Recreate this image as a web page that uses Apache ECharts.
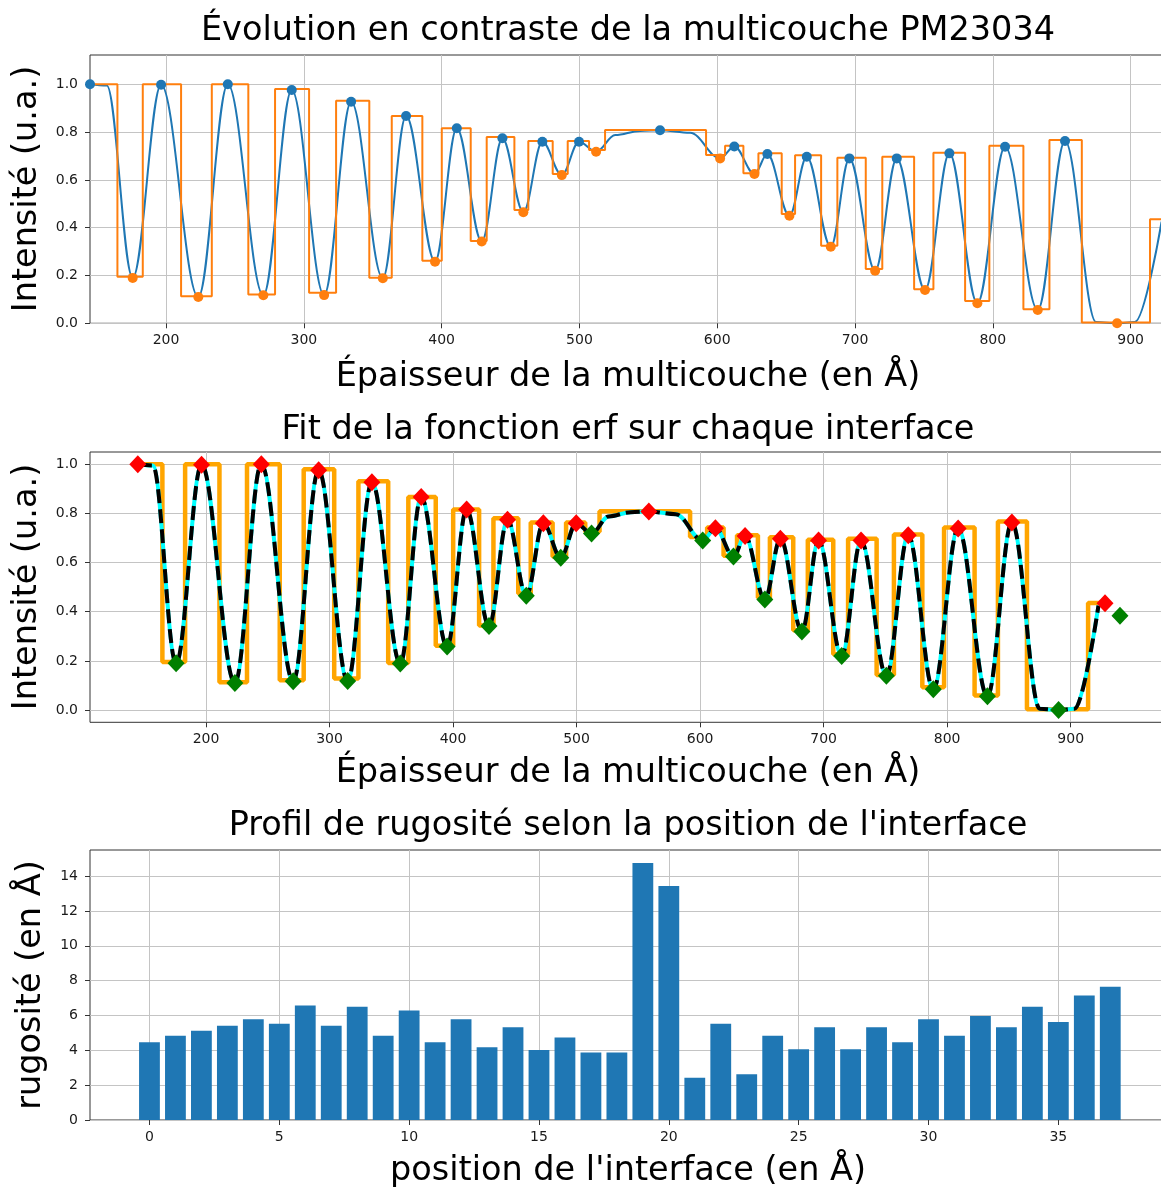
<!DOCTYPE html>
<html>
<head>
<meta charset="utf-8">
<script src="https://cdn.jsdelivr.net/npm/echarts@6/dist/echarts.min.js"></script>
<style>
html,body{margin:0;padding:0;background:#fff;}
#chart{width:1161px;height:1190px;}
</style>
</head>
<body>
<div id="chart"></div>
<script>
// ---------- DATA ----------
// Smoothed intensity curve, read at its extrema and flat parts (x in Å, y in u.a.)
const curveX = [144.8, 157.0, 175.8, 196.4, 223.4, 244.8, 270.6, 291.2, 314.7, 334.3, 357.3, 374.2, 395.2, 411.0, 429.1, 444.1, 459.3, 473.1, 487.2, 499.7, 512.1, 526.0, 544.0, 558.5, 580.3, 602.1, 612.4, 627.0, 636.4, 652.4, 665.0, 682.4, 695.9, 714.6, 730.3, 750.8, 768.5, 788.8, 808.9, 832.6, 852.4, 875.0, 890.2, 903.0, 922.5];
const curveY = [1.0, 0.995, 0.19, 0.998, 0.11, 1.0, 0.117, 0.976, 0.118, 0.927, 0.189, 0.867, 0.258, 0.816, 0.342, 0.774, 0.465, 0.76, 0.62, 0.76, 0.718, 0.788, 0.805, 0.808, 0.797, 0.69, 0.74, 0.625, 0.708, 0.45, 0.697, 0.32, 0.69, 0.22, 0.69, 0.139, 0.711, 0.084, 0.739, 0.056, 0.763, 0.005, 0.0, 0.005, 0.425];

// Layer model (step function): start of each layer and its level
const stepX = [144.8, 164.7, 183.1, 210.9, 233.2, 259.7, 279.1, 303.8, 323.4, 347.5, 363.8, 386.0, 400.1, 421.1, 432.7, 452.8, 462.9, 480.6, 491.5, 507.0, 518.6, 591.9, 605.7, 619.0, 629.9, 646.8, 656.5, 675.4, 687.2, 707.8, 719.8, 742.9, 756.9, 779.9, 797.5, 822.2, 841.1, 864.6, 914.1, 924.0];
const stepY = [1.0, 0.195, 1.0, 0.113, 1.0, 0.121, 0.98, 0.128, 0.931, 0.191, 0.867, 0.262, 0.816, 0.344, 0.78, 0.474, 0.763, 0.625, 0.763, 0.725, 0.809, 0.704, 0.743, 0.628, 0.711, 0.457, 0.703, 0.325, 0.693, 0.227, 0.697, 0.142, 0.714, 0.093, 0.743, 0.059, 0.767, 0.003, 0.435, 0.435];

// Maxima and minima of the intensity curve
const peakX = [144.8, 196.4, 244.8, 291.2, 334.3, 374.2, 411.0, 444.1, 473.1, 499.7, 558.5, 612.4, 636.4, 665.0, 695.9, 730.3, 768.5, 808.9, 852.4];
const peakY = [1.0, 0.998, 1.0, 0.976, 0.927, 0.867, 0.816, 0.774, 0.76, 0.76, 0.808, 0.74, 0.708, 0.697, 0.69, 0.69, 0.711, 0.739, 0.763];
const troughX = [175.8, 223.4, 270.6, 314.7, 357.3, 395.2, 429.1, 459.3, 487.2, 512.1, 602.1, 627.0, 652.4, 682.4, 714.6, 750.8, 788.8, 832.6, 890.2];
const troughY = [0.19, 0.11, 0.117, 0.118, 0.189, 0.258, 0.342, 0.465, 0.62, 0.718, 0.69, 0.625, 0.45, 0.32, 0.22, 0.139, 0.084, 0.056, 0.0];
// extra extrema shown in the erf-fit panel
const fitPeakExtraX = [927.8];
const fitPeakExtraY = [0.434];
const fitTroughExtraX = [939.9];
const fitTroughExtraY = [0.384];

// Roughness per interface
const interfacePos = [0,1,2,3,4,5,6,7,8,9,10,11,12,13,14,15,16,17,18,19,20,21,22,23,24,25,26,27,28,29,30,31,32,33,34,35,36,37];
const roughness = [4.46, 4.84, 5.12, 5.41, 5.79, 5.53, 6.58, 5.41, 6.50, 4.84, 6.29, 4.46, 5.79, 4.17, 5.32, 4.02, 4.74, 3.88, 3.88, 14.76, 13.43, 2.43, 5.53, 2.62, 4.84, 4.06, 5.32, 4.06, 5.32, 4.46, 5.79, 4.84, 5.97, 5.32, 6.50, 5.62, 7.15, 7.65];

// Tick values
const thickTicks = [200, 300, 400, 500, 600, 700, 800, 900];
const intensityTicks = [0, 0.2, 0.4, 0.6, 0.8, 1.0];
const posTicks = [0, 5, 10, 15, 20, 25, 30, 35];
const roughTicks = [0, 2, 4, 6, 8, 10, 12, 14];

const titles = ["Évolution en contraste de la multicouche PM23034", "Fit de la fonction erf sur chaque interface", "Profil de rugosité selon la position de l'interface"];
const xLabels = ["Épaisseur de la multicouche (en Å)", "Épaisseur de la multicouche (en Å)", "position de l'interface (en Å)"];
const yLabels = ["Intensité (u.a.)", "Intensité (u.a.)", "rugosité (en Å)"];

// ---------- CHART ----------
const zip = (xs, ys) => xs.map((x, i) => [x, ys[i]]);
const FONT = 'DejaVu Sans';
const TXT = '#1a1a1a';

function axis(gi, min, max, ticks, digits, step, labelMargin) {
  return {
    gridIndex: gi, type: 'value', min: min, max: max,
    minInterval: step, maxInterval: step,
    axisLine: {show: false, onZero: false},
    axisTick: {show: true, inside: false, length: 5, customValues: ticks, lineStyle: {color: '#333', width: 1}},
    axisLabel: {color: TXT, fontFamily: FONT, fontSize: 14, margin: labelMargin, customValues: ticks,
      formatter: v => Number(v).toFixed(digits)},
    splitLine: {show: true, lineStyle: {color: '#c4c4c4', width: 1}}
  };
}

const grids = [
  {left: 90, top: 55, width: 1080, height: 268.3},
  {left: 90, top: 452, width: 1080, height: 270.3},
  {left: 90, top: 850, width: 1080, height: 270}
].map(g => Object.assign(g, {show: true, borderColor: '#333', borderWidth: 1, backgroundColor: 'transparent', outerBoundsMode: 'none', containLabel: false}));

const xAxes = [
  axis(0, 144.8, 928.6, thickTicks, 0, 100, 10),
  axis(1, 106.1, 980.4, thickTicks, 0, 100, 10),
  axis(2, -2.29, 39.3, posTicks, 0, 5, 10)
];
const yAxes = [
  axis(0, 0, 1.1226, intensityTicks, 1, 0.2, 12),
  axis(1, -0.05, 1.05, intensityTicks, 1, 0.2, 12),
  axis(2, 0, 15.5, roughTicks, 0, 2, 12)
];

const curve = zip(curveX, curveY);
const steps = zip(stepX, stepY);
const peaks = zip(peakX, peakY);
const troughs = zip(troughX, troughY);
const SM = 0.363;

const series = [
  // panel 1
  {type: 'line', xAxisIndex: 0, yAxisIndex: 0, data: curve, smooth: SM, smoothMonotone: 'x', showSymbol: false, clip: true,
   lineStyle: {color: '#1f77b4', width: 2}, z: 2, silent: true},
  {type: 'line', xAxisIndex: 0, yAxisIndex: 0, data: steps, step: 'end', showSymbol: false, clip: true,
   lineStyle: {color: '#ff7f0e', width: 2}, z: 3, silent: true},
  {type: 'scatter', xAxisIndex: 0, yAxisIndex: 0, data: peaks, symbol: 'circle', symbolSize: 10, clip: true,
   itemStyle: {color: '#1f77b4', opacity: 1}, z: 4, silent: true},
  {type: 'scatter', xAxisIndex: 0, yAxisIndex: 0, data: troughs, symbol: 'circle', symbolSize: 10, clip: true,
   itemStyle: {color: '#ff7f0e', opacity: 1}, z: 5, silent: true},
  // panel 2
  {type: 'line', xAxisIndex: 1, yAxisIndex: 1, data: steps, step: 'end', showSymbol: false,
   lineStyle: {color: '#FFA500', width: 4.5}, z: 2, silent: true},
  {type: 'line', xAxisIndex: 1, yAxisIndex: 1, data: curve, smooth: SM, smoothMonotone: 'x', showSymbol: false,
   lineStyle: {color: '#00FFFF', width: 4}, z: 3, silent: true},
  {type: 'line', xAxisIndex: 1, yAxisIndex: 1, data: curve, smooth: SM, smoothMonotone: 'x', showSymbol: false,
   lineStyle: {color: '#000000', width: 4, type: [14, 6]}, z: 4, silent: true},
  {type: 'scatter', xAxisIndex: 1, yAxisIndex: 1, data: peaks.concat(zip(fitPeakExtraX, fitPeakExtraY)), symbol: 'diamond', symbolSize: [17, 18],
   itemStyle: {color: '#FF0000', opacity: 1}, z: 5, silent: true},
  {type: 'scatter', xAxisIndex: 1, yAxisIndex: 1, data: troughs.concat(zip(fitTroughExtraX, fitTroughExtraY)), symbol: 'diamond', symbolSize: [17, 18],
   itemStyle: {color: '#008000', opacity: 1}, z: 6, silent: true},
  // panel 3
  {type: 'bar', xAxisIndex: 2, yAxisIndex: 2, data: zip(interfacePos, roughness), barWidth: 20.8,
   itemStyle: {color: '#1f77b4'}, z: 2, silent: true}
];

const CX = 628;
const textEl = (t, x, y, rot) => ({
  type: 'text', x: x, y: y, rotation: rot || 0, silent: true,
  style: {text: t, fill: '#000', font: '33.5px "DejaVu Sans"', textAlign: 'center', textVerticalAlign: 'middle'}
});
const graphics = [
  textEl(titles[0], CX, 31), textEl(xLabels[0], CX, 377), textEl(yLabels[0], 27, 189, Math.PI / 2),
  textEl(titles[1], CX, 430), textEl(xLabels[1], CX, 773), textEl(yLabels[1], 27, 587, Math.PI / 2),
  textEl(titles[2], CX, 826), textEl(xLabels[2], CX, 1171), textEl(yLabels[2], 31, 985, Math.PI / 2)
];

const chart = echarts.init(document.getElementById('chart'), null, {renderer: 'canvas'});
chart.setOption({
  animation: false,
  backgroundColor: '#ffffff',
  grid: grids,
  xAxis: xAxes,
  yAxis: yAxes,
  series: series,
  graphic: graphics
});
</script>
</body>
</html>
